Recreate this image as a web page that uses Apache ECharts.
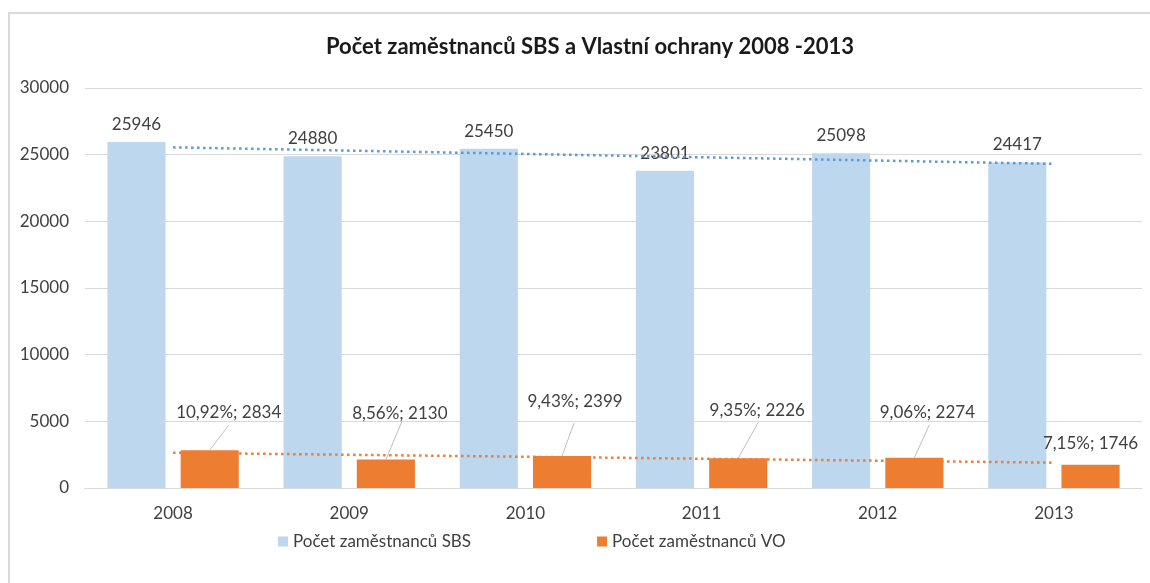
<!DOCTYPE html>
<html>
<head>
<meta charset="utf-8">
<script src="https://cdn.jsdelivr.net/npm/echarts@6/dist/echarts.min.js"></script>
<style>
  html, body { margin: 0; padding: 0; background: #fff; }
  #chart { width: 1150px; height: 583px; }
</style>
</head>
<body>
<div id="chart"></div>
<script>
const years = ['2008', '2009', '2010', '2011', '2012', '2013'];
const sbsCounts = [25946, 24880, 25450, 23801, 25098, 24417];
const voCounts = [2834, 2130, 2399, 2226, 2274, 1746];
// trendline ends (first / last year)
const sbsTrendEnds = [25550, 24310];
const voTrendEnds = [2640, 1900];
const yTicks = [0, 5000, 10000, 15000, 20000, 25000, 30000];

// where the VO labels sit relative to their default spot
const voLabelShift = [[19, -24], [14, -33], [13, -41], [19, -34], [13, -32], [0, -8]];
// leader line end, relative to the top centre of the VO bar (null = no line)
const voLeader = [[19, -25], [16, -38], [12, -33], [20, -36], [15, -33], null];

const FONT = 'Lato, "Noto Sans", sans-serif';
const BAR_W = 0.33; // share of category width
const BAR_GAP = 0.26; // share of bar width

const trendData = (ends) => years.map((y, i) => {
  if (i === 0) return ends[0];
  if (i === years.length - 1) return ends[1];
  return null;
});

const chart = echarts.init(document.getElementById('chart'));

const option = {
  animation: false,
  textStyle: { fontFamily: FONT },
  title: {
    text: 'Počet zaměstnanců SBS a Vlastní ochrany 2008 -2013',
    left: 585,
    textAlign: 'center',
    top: 31,
    textStyle: {
      fontFamily: FONT,
      fontSize: 22,
      fontWeight: 'bold',
      color: '#1a1a1a',
    },
  },
  graphic: [{
    type: 'rect',
    shape: { x: 9, y: 13, width: 1160, height: 600 },
    style: { fill: 'none', stroke: '#d9d9d9', lineWidth: 2 },
    silent: true,
  }],
  grid: {
    left: 85,
    right: 8,
    top: 88,
    bottom: 95,
  },
  legend: {
    top: 528,
    left: 273,
    itemWidth: 10,
    itemHeight: 10,
    itemGap: 126,
    icon: 'rect',
    data: ['Počet zaměstnanců SBS', 'Počet zaměstnanců VO'],
    textStyle: { fontFamily: FONT, fontSize: 17, color: '#404040' },
  },
  xAxis: {
    type: 'category',
    data: years,
    axisTick: { show: false },
    axisLine: { lineStyle: { color: '#d9d9d9', width: 1 } },
    axisLabel: { color: '#404040', fontSize: 17, margin: 17, fontFamily: FONT },
  },
  yAxis: {
    type: 'value',
    min: yTicks[0],
    max: yTicks[yTicks.length - 1],
    interval: 5000,
    axisLine: { show: false },
    axisTick: { show: false },
    axisLabel: {
      color: '#404040',
      fontSize: 17,
      margin: 16,
      fontFamily: FONT,
      formatter: (v) => String(v),
    },
    splitLine: { lineStyle: { color: '#d9d9d9', width: 1 } },
  },
  series: [
    {
      name: 'Počet zaměstnanců SBS',
      type: 'bar',
      data: sbsCounts,
      barWidth: BAR_W * 100 + '%',
      barGap: BAR_GAP * 100 + '%',
      itemStyle: { color: '#bdd7ee' },
      label: {
        show: true,
        position: 'top',
        distance: 9,
        color: '#404040',
        fontSize: 17,
        fontFamily: FONT,
      },
    },
    {
      name: 'Počet zaměstnanců VO',
      type: 'bar',
      data: voCounts,
      barWidth: BAR_W * 100 + '%',
      itemStyle: { color: '#ed7d31' },
      label: {
        show: true,
        position: 'top',
        distance: 5,
        color: '#404040',
        fontSize: 17,
        fontFamily: FONT,
        formatter: (p) => {
          const pct = (voCounts[p.dataIndex] / sbsCounts[p.dataIndex] * 100).toFixed(2).replace('.', ',');
          return pct + '%; ' + p.value;
        },
      },
      labelLayout: (p) => ({
        dx: voLabelShift[p.dataIndex][0],
        dy: voLabelShift[p.dataIndex][1],
      }),
    },
    {
      name: 'voLeader',
      type: 'custom',
      silent: true,
      z: 4,
      data: voCounts.map((v, i) => [i, v]),
      renderItem: (params, api) => {
        const lead = voLeader[params.dataIndex];
        if (!lead) return null;
        const top = api.coord([api.value(0), api.value(1)]);
        const cw = api.size([1, 0])[0];
        const x = top[0] + cw * (BAR_W + BAR_W * BAR_GAP) / 2;
        return {
          type: 'line',
          shape: { x1: x, y1: top[1], x2: x + lead[0], y2: top[1] + lead[1] },
          style: { stroke: '#bfbfbf', lineWidth: 1 },
        };
      },
    },
    {
      name: 'sbsTrend',
      type: 'line',
      data: trendData(sbsTrendEnds),
      connectNulls: true,
      symbol: 'none',
      z: 5,
      lineStyle: { color: '#5b9bd5', width: 2.5, type: [2.5, 3.5] },
    },
    {
      name: 'voTrend',
      type: 'line',
      data: trendData(voTrendEnds),
      connectNulls: true,
      symbol: 'none',
      z: 5,
      lineStyle: { color: '#ed7d31', width: 2.5, type: [2.5, 3.5] },
    },
  ],
};

chart.setOption(option);
</script>
</body>
</html>
